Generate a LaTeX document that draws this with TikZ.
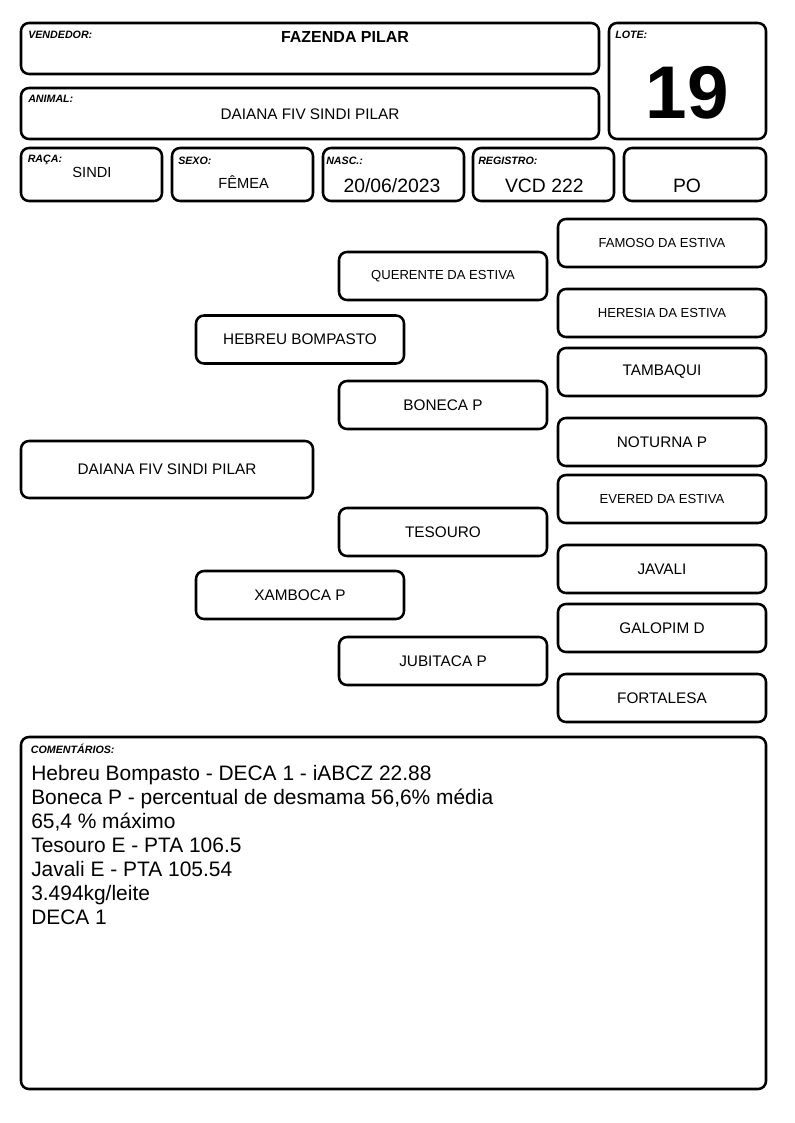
\documentclass[tikz,border=0pt]{standalone}
\usepackage{fontspec}
\setmainfont{Liberation Sans}
\begin{document}
\begin{tikzpicture}[x=0.75pt,y=-0.75pt,
  box/.style={draw, line width=1.9pt, rounded corners=6pt, inner sep=0pt, align=center},
  lab/.style={anchor=base west, inner sep=0pt, font=\fontsize{8}{9.5}\selectfont\bfseries\itshape},
  val/.style={anchor=base, inner sep=0pt},
  hdr/.style={box, minimum width=105.75pt, minimum height=39.75pt},
  ped/.style={box, minimum width=156pt, minimum height=36pt, font=\fontsize{11.5}{13}\selectfont},
  peds/.style={ped, font=\fontsize{9.8}{12}\selectfont}]
\useasboundingbox (0,0) rectangle (794,1123);
% header
\node[box, minimum width=433.5pt, minimum height=38.25pt] (vend) at (310,48.5) {};
\node[lab] (vendl) at (28,39) {VENDEDOR:};
\node[val, font=\fontsize{12}{14}\selectfont\bfseries] (vendv) at (345,43) {FAZENDA PILAR};
\node[box, minimum width=433.5pt, minimum height=38.25pt] (anim) at (310,113.5) {};
\node[lab] (animl) at (28,103) {ANIMAL:};
\node[val, font=\fontsize{11.5}{13}\selectfont] (animv) at (310,120) {DAIANA FIV SINDI PILAR};
\node[box, minimum width=117.75pt, minimum height=87pt] (lote) at (687.5,81) {};
\node[lab] (lotel) at (615,39) {LOTE:};
\node[val, font=\fontsize{56}{60}\selectfont\bfseries] (lotev) at (687.5,119) {19};
\node[hdr] (raca) at (91.5,174.5) {};
\node[lab] (racal) at (27.5,163) {RAÇA:};
\node[val, font=\fontsize{11}{13}\selectfont] (racav) at (92,178) {SINDI};
\node[hdr] (sexo) at (242.5,174.5) {};
\node[lab] (sexol) at (178,165) {SEXO:};
\node[val, font=\fontsize{11}{13}\selectfont] (sexov) at (243.7,189) {FÊMEA};
\node[hdr] (nasc) at (393.5,174.5) {};
\node[lab] (nascl) at (326,165) {NASC.:};
\node[val, font=\fontsize{14.5}{16}\selectfont] (nascv) at (392,193) {20/06/2023};
\node[hdr] (reg) at (543.5,174.5) {};
\node[lab] (regl) at (478,165) {REGISTRO:};
\node[val, font=\fontsize{14.5}{16}\selectfont] (regv) at (544.3,193) {VCD 222};
\node[hdr, minimum width=106.5pt] (po) at (695,174.5) {};
\node[val, font=\fontsize{14.5}{16}\selectfont] (pov) at (687,193) {PO};
% pedigree
\node[box, minimum width=219pt, minimum height=42.75pt, font=\fontsize{11.5}{13}\selectfont] (self) at (167,469.5) {DAIANA FIV SINDI PILAR};
\node[ped] (sire) at (300,339.5) {HEBREU BOMPASTO};
\node[ped] (dam) at (300,595) {XAMBOCA P};
\node[peds] (ss) at (443,276) {QUERENTE DA ESTIVA};
\node[ped] (sd) at (443,405) {BONECA P};
\node[ped] (ds) at (443,532) {TESOURO};
\node[ped] (dd) at (443,661) {JUBITACA P};
\node[peds] (sss) at (662,243) {FAMOSO DA ESTIVA};
\node[peds] (ssd) at (662,313) {HERESIA DA ESTIVA};
\node[ped] (sds) at (662,372) {TAMBAQUI};
\node[ped] (sdd) at (662,442) {NOTURNA P};
\node[peds] (dss) at (662,499) {EVERED DA ESTIVA};
\node[ped] (dsd) at (662,569) {JAVALI};
\node[ped] (dds) at (662,628) {GALOPIM D};
\node[ped] (ddd) at (662,698) {FORTALESA};
% comments
\node[box, minimum width=558.75pt, minimum height=264pt] (com) at (393.5,913) {};
\node[lab] (coml) at (30.7,753) {COMENTÁRIOS:};
\node[anchor=north west, inner sep=0pt, align=left, font=\fontsize{15.7}{18}\selectfont] (comv) at (31,765) {Hebreu Bompasto - DECA 1 - iABCZ 22.88\\
Boneca P - percentual de desmama 56,6\% média\\
65,4 \% máximo\\
Tesouro E - PTA 106.5\\
Javali E - PTA 105.54\\
3.494kg/leite\\
DECA 1};
\end{tikzpicture}
\end{document}
